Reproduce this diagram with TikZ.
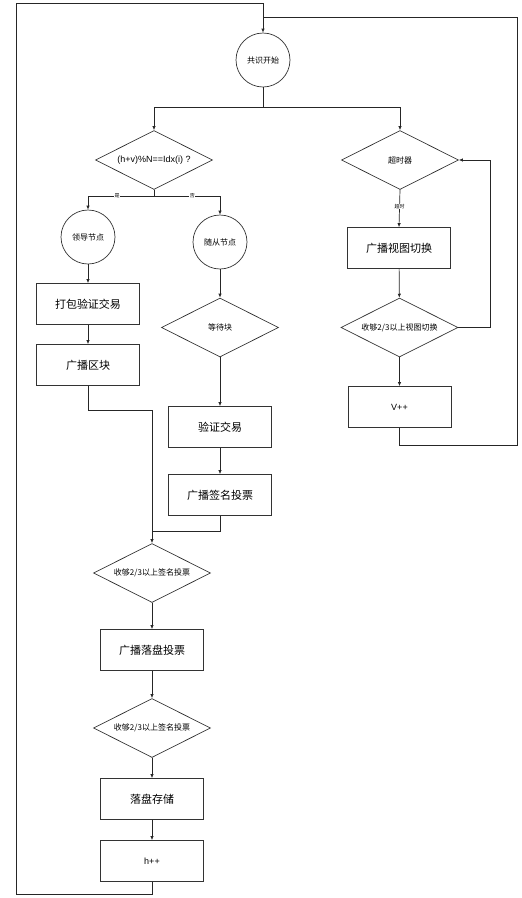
\documentclass[tikz,border=0pt]{standalone}
\usepackage{fontspec}
\setmainfont{Liberation Sans}
\newfontfamily\cjk{Noto Sans CJK SC}
\usetikzlibrary{shapes.geometric,arrows.meta}
\tikzset{
  base/.style={draw=black!80, line width=0.7pt, font=\cjk, inner sep=0pt, align=center},
  procbox/.style={base, rectangle, minimum width=103pt, minimum height=41pt, font=\cjk\fontsize{11}{13}\selectfont},
  roundnode/.style={base, circle, minimum size=54pt, font=\cjk\fontsize{8}{10}\selectfont},
  decision/.style={base, diamond, aspect=2, minimum width=117pt, minimum height=59pt, font=\cjk\fontsize{8}{10}\selectfont},
  conn/.style={draw=black!85, line width=0.7pt},
  arr/.style={conn, -{Latex[length=4pt,width=3.5pt]}},
  tiny/.style={font=\cjk\fontsize{5}{5}\selectfont, fill=white, inner sep=0.5pt}
}
\begin{document}
\begin{tikzpicture}[x=1pt,y=-1pt]
\useasboundingbox (0,0) rectangle (522,898);
% nodes
\node[roundnode] (start) at (263,60) {共识开始};
\node[decision, font=\fontsize{9}{11}\selectfont] (d1) at (154,160) {(h+v)\%N==Idx(i) ?};
\node[decision] (timer) at (400,160) {超时器};
\node[roundnode] (leader) at (88,237) {领导节点};
\node[roundnode] (follower) at (220,242) {随从节点};
\node[procbox] (pack) at (88,304) {打包验证交易};
\node[procbox] (bcblock) at (88,365) {广播区块};
\node[decision] (wait) at (220,327.5) {等待块};
\node[procbox] (verify) at (220,427) {验证交易};
\node[procbox] (bcsign) at (220,495) {广播签名投票};
\node[decision] (q1) at (152,573) {收够2/3以上签名投票};
\node[procbox] (bcdisk) at (152,650) {广播落盘投票};
\node[decision] (q2) at (152,728) {收够2/3以上签名投票};
\node[procbox] (store) at (152,799) {落盘存储};
\node[procbox, font=\fontsize{9}{11}\selectfont] (hpp) at (152,861) {h++};
\node[procbox] (bcview) at (399,248) {广播视图切换};
\node[decision] (qv) at (399.5,327.5) {收够2/3以上视图切换};
\node[procbox, font=\fontsize{9}{11}\selectfont] (vpp) at (399.5,407) {V++};
% helper coordinates
\coordinate (split) at (263,107);
\coordinate (topjoin) at (263,17);
\coordinate (lsplit) at (154,196);
% connectors
\draw[conn] (start.south) -- (split);
\draw[arr] (split) -| (d1.north);
\draw[arr] (split) -| (timer.north);
\draw[conn] (d1.south) -- (lsplit);
\draw[arr] (lsplit) -| node[tiny, pos=0.28] {是} (leader.north);
\draw[arr] (lsplit) -| node[tiny, pos=0.29] {否} (follower.north);
\draw[arr] (leader) -- (pack);
\draw[arr] (pack) -- (bcblock);
\draw[arr] (follower) -- (wait);
\draw[arr] (wait) -- (verify);
\draw[arr] (verify) -- (bcsign);
\draw[arr] (bcblock.south) -- (88,410) -| (q1.north);
\draw[conn] (bcsign.south) -- (220,531) -- (152,531);
\draw[arr] (q1) -- (bcdisk);
\draw[arr] (bcdisk) -- (q2);
\draw[arr] (q2) -- (store);
\draw[arr] (store) -- (hpp);
\draw[arr] (hpp.south) -- (152,894) -- (16,894) -- (16,3) -- (263,3) -- (start.north);
\draw[arr] (timer.south) -- node[tiny, pos=0.45] {超时} (bcview.north);
\draw[arr] (bcview) -- (qv);
\draw[arr] (qv.east) -- (490,327.5) -- (490,160) -- (timer.east);
\draw[arr] (qv) -- (vpp);
\draw[conn] (vpp.south) -- (399.5,445) -- (517,445) -- (517,17) -- (topjoin);
\end{tikzpicture}
\end{document}
